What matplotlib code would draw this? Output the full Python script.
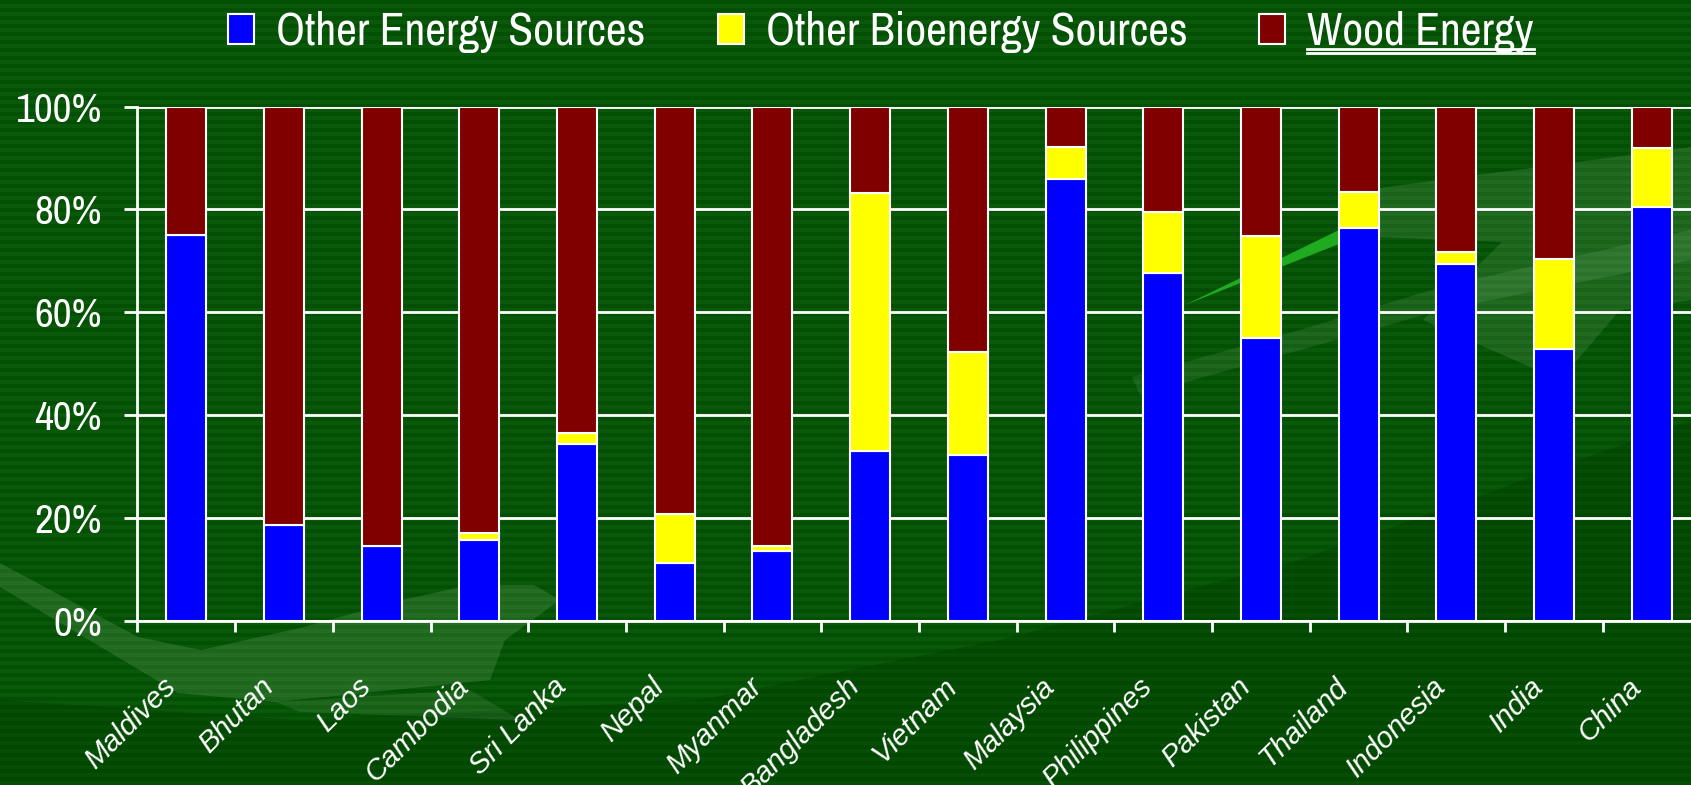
import matplotlib
matplotlib.use('Agg')
import matplotlib.pyplot as plt
import numpy as np
from matplotlib import font_manager as fm
from matplotlib.transforms import ScaledTranslation, blended_transform_factory
from matplotlib.patches import Patch, Polygon
from matplotlib.lines import Line2D

countries = ['Maldives', 'Bhutan', 'Laos', 'Cambodia', 'Sri Lanka', 'Nepal', 'Myanmar',
             'Bangladesh', 'Vietnam', 'Malaysia', 'Philippines', 'Pakistan', 'Thailand',
             'Indonesia', 'India', 'China']
other_energy = [75.0, 18.6, 14.4, 15.7, 34.3, 11.1, 13.5, 33.0, 32.2, 85.9, 67.7, 54.9, 76.4, 69.4, 52.8, 80.5]
other_bio = [0.0, 0.0, 0.0, 1.3, 2.1, 9.6, 0.9, 50.1, 20.0, 6.3, 11.7, 19.9, 7.0, 2.2, 17.5, 11.4]
wood = [25.0, 81.4, 85.6, 83.0, 63.6, 79.3, 85.6, 16.9, 47.8, 7.8, 20.6, 25.2, 16.6, 28.4, 29.7, 8.1]
series_names = ['Other Energy Sources', 'Other Bioenergy Sources', 'Wood Energy']
yticks = [0, 20, 40, 60, 80, 100]
ytick_labels = ['0%', '20%', '40%', '60%', '80%', '100%']

names = {f.name for f in fm.fontManager.ttflist}
narrow = 'Liberation Sans'
for cand in ['Liberation Sans Narrow', 'Arial Narrow', 'Nimbus Sans Narrow', 'Archivo Narrow',
             'Roboto Condensed', 'PT Sans Narrow', 'IBM Plex Sans Condensed', 'Open Sans Condensed']:
    if cand in names:
        narrow = cand
        break
regular = 'Liberation Sans'

W, H = 1691, 785
fig = plt.figure(figsize=(W / 100, H / 100), dpi=100)
fig.patch.set_facecolor('#004d00')
renderer = fig.canvas.get_renderer()


def fit_size(text, family, target_px, base=30, style='normal'):
    t = fig.text(0, 0, text, fontsize=base, family=family, style=style)
    w = t.get_window_extent(renderer=renderer).width
    t.remove()
    return base * target_px / w


# striped background with faint decorative shapes
bg = fig.add_axes([0, 0, 1, 1], zorder=-10)
bg.set_xlim(0, W)
bg.set_ylim(H, 0)
rows = np.arange(H // 4) % 2
bg.imshow(rows[:, None], cmap=matplotlib.colors.ListedColormap(['#034f03', '#0a590a']),
          aspect='auto', interpolation='nearest', extent=[0, W, H, 0])
bg.add_patch(Polygon([(0, H), (0, 700), (300, 720), (700, 700), (1000, 640), (1300, 560),
                      (1691, 420), (1691, H)], closed=True, facecolor='#003a00',
                     edgecolor='none', alpha=0.35))
deco = [
    ([(0, 563), (138, 637), (201, 650), (300, 628), (402, 600), (470, 585), (534, 585),
      (560, 600), (505, 640), (490, 680), (276, 702), (178, 693), (0, 587)], 0.17),
    ([(276, 702), (470, 690), (520, 720), (300, 712)], 0.12),
    ([(1379, 188), (1691, 147), (1691, 300), (1620, 310), (1560, 380), (1423, 320),
      (1502, 242), (1379, 237)], 0.15),
    ([(1132, 377), (1300, 330), (1441, 287), (1691, 230), (1691, 260), (1441, 310),
      (1300, 350), (1140, 395)], 0.12),
]
for pts, a in deco:
    bg.add_patch(Polygon(pts, closed=True, facecolor='#a8d8a8', edgecolor='none', alpha=a))
bg.add_patch(Polygon([(1185, 305), (1339, 230), (1339, 244)], closed=True,
                     facecolor='#1faa1f', edgecolor='none'))
bg.set_axis_off()

ax = fig.add_axes([137.4 / W, 164.5 / H, 16 * 97.7 / W, 514 / H])
ax.set_facecolor('none')

x = np.arange(len(countries))
colors = ['#0000ff', '#ffff00', '#800000']
bw = 0.41
oe = np.array(other_energy)
ob = np.array(other_bio)
wd = np.array(wood)
ax.bar(x, oe, bw, color=colors[0], edgecolor='white', linewidth=1.5, zorder=3)
ax.bar(x, ob, bw, bottom=oe, color=colors[1], edgecolor='white', linewidth=1.5, zorder=3)
ax.bar(x, wd, bw, bottom=oe + ob, color=colors[2], edgecolor='white', linewidth=1.5, zorder=3)

ax.set_xlim(-0.5, len(countries) - 0.5)
ax.set_ylim(0, 100)
ax.set_axisbelow(True)
ax.yaxis.grid(True, color='white', linewidth=2)
ysize = fit_size('100%', narrow, 86)
ax.set_yticks(yticks)
ax.set_yticklabels(ytick_labels, fontfamily=narrow, fontsize=ysize, color='white')
ax.tick_params(axis='y', length=9.5, width=2, color='white', pad=16)
ax.set_xticks(np.arange(len(countries)) - 0.5)
ax.set_xticklabels([])
ax.tick_params(axis='x', length=7.7, width=2, color='white', direction='out')
for s in ['top', 'right']:
    ax.spines[s].set_visible(False)
for s in ['left', 'bottom']:
    ax.spines[s].set_color('white')
    ax.spines[s].set_linewidth(2)

xsize = fit_size('Maldives', regular, 116, style='italic')
trans = blended_transform_factory(ax.transData, ax.transAxes) + \
    ScaledTranslation(-15 / 100, -62 / 100, fig.dpi_scale_trans)
for i, c in enumerate(countries):
    ax.text(i, 0, c, transform=trans, rotation=45, ha='right', va='center',
            rotation_mode='anchor', fontsize=xsize, color='white', fontfamily=regular,
            style='italic')

lsize = fit_size('Other Energy Sources', narrow, 369)
handles = [Patch(facecolor=colors[k], edgecolor='white', linewidth=1.5, label=series_names[k])
           for k in range(3)]
px_em = lsize * 100 / 72
leg = fig.legend(handles=handles, loc='center', bbox_to_anchor=(881 / W, 1 - 32 / H),
                 ncol=3, frameon=False, handlelength=26 / px_em, handleheight=28 / px_em,
                 handletextpad=22 / px_em, columnspacing=72 / px_em,
                 borderaxespad=0, borderpad=0, prop={'family': narrow, 'size': lsize})
for t in leg.get_texts():
    t.set_color('white')

fig.canvas.draw()
wt = leg.get_texts()[2]
bb = wt.get_window_extent(renderer=renderer)
inv = fig.transFigure.inverted()
x0, _ = inv.transform((bb.x0, 0))
x1, _ = inv.transform((bb.x1, 0))
for ypx in (48.5, 53.0):
    fig.add_artist(Line2D([x0, x1], [1 - ypx / H, 1 - ypx / H], color='white',
                          linewidth=2, transform=fig.transFigure))

fig.savefig('out.png', dpi=100, facecolor=fig.get_facecolor())
